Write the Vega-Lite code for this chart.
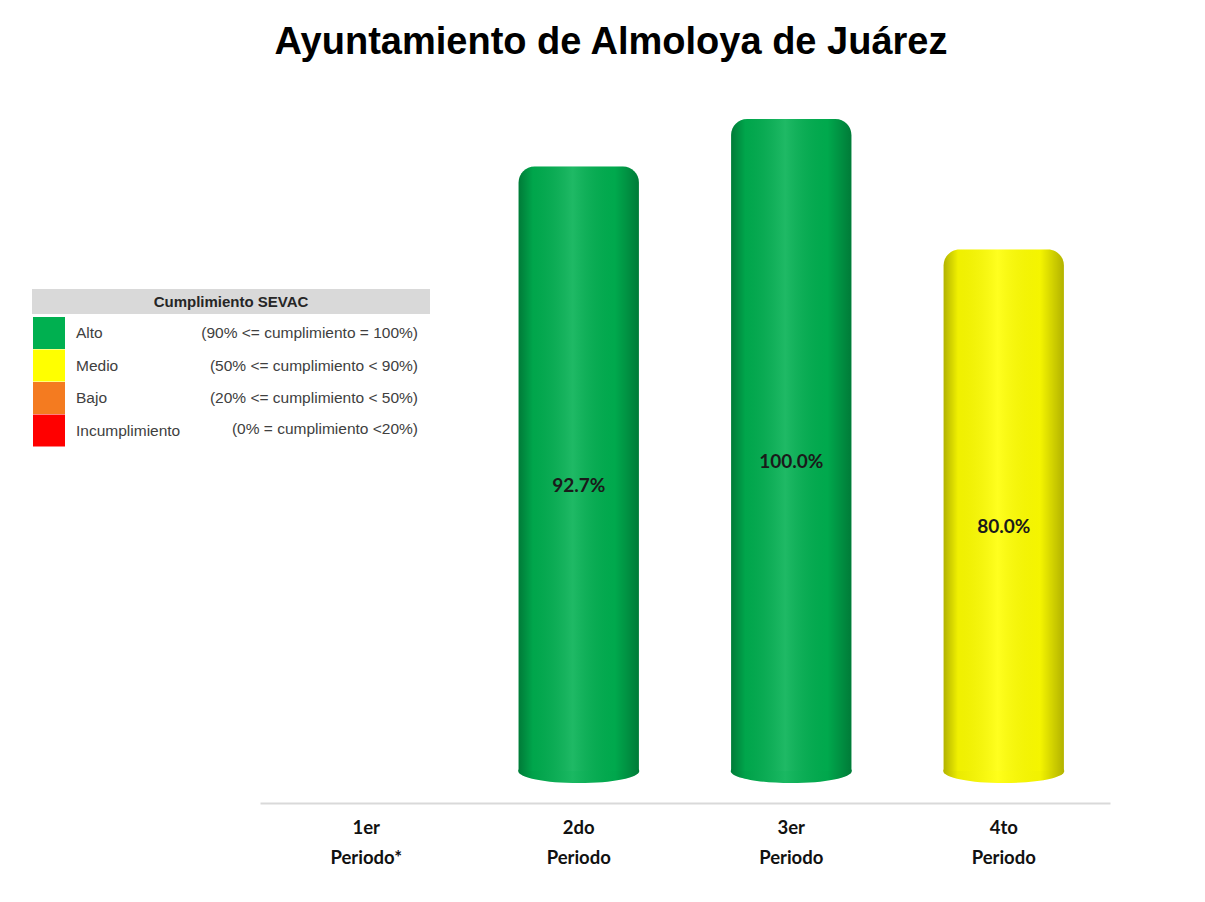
{
  "$schema": "https://vega.github.io/schema/vega-lite/v6.json",
  "autosize": {"type": "none"},
  "width": 850,
  "height": 708,
  "padding": {"left": 260, "top": 95, "right": 95, "bottom": 99},
  "background": "white",
  "title": {
    "text": "Ayuntamiento de Almoloya de Juárez",
    "font": "Liberation Sans",
    "fontSize": 38,
    "fontWeight": "bold",
    "color": "#000000",
    "anchor": "middle",
    "frame": "group",
    "dx": -74,
    "offset": 33
  },
  "datasets": {
    "periodos": [
      {"periodo": "1er|Periodo*", "valor": null, "nivel": null},
      {"periodo": "2do|Periodo", "valor": 0.927, "nivel": "Alto"},
      {"periodo": "3er|Periodo", "valor": 1.0, "nivel": "Alto"},
      {"periodo": "4to|Periodo", "valor": 0.8, "nivel": "Medio"}
    ],
    "niveles": [
      {"nivel": "Alto", "rango": "(90% <= cumplimiento = 100%)"},
      {"nivel": "Medio", "rango": "(50% <= cumplimiento < 90%)"},
      {"nivel": "Bajo", "rango": "(20% <= cumplimiento < 50%)"},
      {"nivel": "Incumplimiento", "rango": "(0% = cumplimiento <20%)"}
    ]
  },
  "layer": [
    {
      "data": {"name": "periodos"},
      "layer": [
        {
          "transform": [{"filter": "datum.valor != null"}],
          "mark": {"type": "point", "shape": "M-1,0A1,0.2,0,1,1,1,0A1,0.2,0,1,1,-1,0Z", "filled": true, "opacity": 1, "size": 14641, "strokeWidth": 0},
          "encoding": {
            "x": {
              "field": "periodo",
              "type": "nominal",
              "sort": null,
              "scale": {"domain": ["1er|Periodo*", "2do|Periodo", "3er|Periodo", "4to|Periodo"], "paddingInner": 0, "paddingOuter": 0},
              "axis": {
                "title": null,
                "labelAngle": 0,
                "labelExpr": "split(datum.label, '|')",
                "labelFont": "Lato",
                "labelFontWeight": "bold",
                "labelFontSize": 18.5,
                "labelLineHeight": 30,
                "labelColor": "#111111",
                "labelPadding": 15,
                "ticks": false,
                "domain": true,
                "domainColor": "#D9D9D9",
                "domainWidth": 2,
                "grid": false
              }
            },
            "y": {"datum": 0, "type": "quantitative", "scale": {"domain": [-0.0491, 1.0368], "nice": false, "zero": false}, "axis": null},
            "color": {"field": "nivel", "type": "nominal", "scale": {"domain": ["Alto", "Medio", "Bajo", "Incumplimiento"], "range": ["#00B050", "#FFFF00", "#F47B20", "#FF0000"]}, "legend": {
              "title": null,
              "orient": "none",
              "legendX": -227,
              "legendY": 222,
              "symbolType": "square",
              "symbolSize": 1024,
              "symbolStrokeWidth": 0,
              "symbolOpacity": 1,
              "rowPadding": 0.5,
              "labelOffset": 11,
              "labelFont": "Liberation Sans",
              "labelFontSize": 15.5,
              "labelColor": "#404040"
            }}
          }
        },
        {
          "transform": [{"filter": "datum.valor != null"}],
          "mark": {"type": "point", "shape": "M-1,0A1,0.2,0,1,1,1,0A1,0.2,0,1,1,-1,0Z", "filled": true, "opacity": 1, "size": 14641, "strokeWidth": 0,
            "color": {"gradient": "linear", "x1": 0, "x2": 1, "y1": 0, "y2": 0, "stops": [
              {"offset": 0, "color": "rgba(0,0,0,0.30)"},
              {"offset": 0.12, "color": "rgba(0,0,0,0.08)"},
              {"offset": 0.45, "color": "rgba(255,255,255,0.10)"},
              {"offset": 0.8, "color": "rgba(0,0,0,0.05)"},
              {"offset": 1, "color": "rgba(0,0,0,0.30)"}
            ]}},
          "encoding": {
            "x": {"field": "periodo", "type": "nominal", "sort": null},
            "y": {"datum": 0, "type": "quantitative"}
          }
        },
        {
          "mark": {"type": "bar", "cornerRadiusTopLeft": 16, "cornerRadiusTopRight": 16, "width": {"band": 0.566}},
          "encoding": {
            "x": {"field": "periodo", "type": "nominal", "sort": null},
            "y": {"field": "valor", "type": "quantitative"},
            "y2": {"datum": 0},
            "color": {"field": "nivel", "type": "nominal"}
          }
        },
        {
          "mark": {"type": "bar", "cornerRadiusTopLeft": 16, "cornerRadiusTopRight": 16, "width": {"band": 0.566},
            "color": {"gradient": "linear", "x1": 0, "x2": 1, "y1": 0, "y2": 0, "stops": [
              {"offset": 0, "color": "rgba(0,0,0,0.30)"},
              {"offset": 0.12, "color": "rgba(0,0,0,0.06)"},
              {"offset": 0.45, "color": "rgba(255,255,255,0.12)"},
              {"offset": 0.8, "color": "rgba(0,0,0,0.04)"},
              {"offset": 1, "color": "rgba(0,0,0,0.30)"}
            ]}},
          "encoding": {
            "x": {"field": "periodo", "type": "nominal", "sort": null},
            "y": {"field": "valor", "type": "quantitative"},
            "y2": {"datum": 0}
          }
        },
        {
          "data": {"name": "niveles"},
          "mark": {"type": "point", "opacity": 0},
          "encoding": {
            "shape": {"field": "rango", "type": "nominal", "scale": {"domain": ["(90% <= cumplimiento = 100%)", "(50% <= cumplimiento < 90%)", "(20% <= cumplimiento < 50%)", "(0% = cumplimiento <20%)"]}, "legend": {
              "title": null,
              "orient": "none",
              "legendX": 126,
              "legendY": 222,
              "symbolType": "square",
              "symbolSize": 1024,
              "symbolOpacity": 0,
              "symbolStrokeWidth": 0,
              "rowPadding": 0.5,
              "labelOffset": 0,
              "labelAlign": "right",
              "labelFont": "Liberation Sans",
              "labelFontSize": 15.5,
              "labelColor": "#404040",
              "labelLimit": 400
            }}
          }
        },
        {
          "mark": {"type": "point", "opacity": 0},
          "encoding": {
            "stroke": {"field": "valor", "type": "quantitative", "scale": {"range": ["#D9D9D9", "#D9D9D9"]}, "legend": {
              "title": "Cumplimiento SEVAC",
              "orient": "none",
              "legendX": -228,
              "legendY": 200,
              "direction": "horizontal",
              "gradientLength": 398,
              "gradientThickness": 25,
              "gradientStrokeWidth": 0,
              "labelOpacity": 0,
              "tickCount": 2,
              "titleOrient": "top",
              "titleAnchor": "middle",
              "titlePadding": -21,
              "titleFont": "Liberation Sans",
              "titleFontSize": 15,
              "titleFontWeight": "bold",
              "titleColor": "#262626"
            }}
          }
        }
      ]
    },
    {
      "data": {"name": "periodos"},
      "mark": {"type": "text", "font": "Lato", "fontWeight": "bold", "fontSize": 19, "color": "#1a1a1a", "baseline": "middle", "dy": 17},
      "encoding": {
        "x": {"field": "periodo", "type": "nominal", "sort": null},
        "y": {"field": "valor", "type": "quantitative", "scale": {"domain": [-0.0982, 2.0736], "nice": false, "zero": false}, "axis": null},
        "text": {"field": "valor", "type": "quantitative", "format": ".1%"}
      }
    }
  ],
  "resolve": {"scale": {"y": "independent"}},
  "config": {"view": {"stroke": null}}
}
